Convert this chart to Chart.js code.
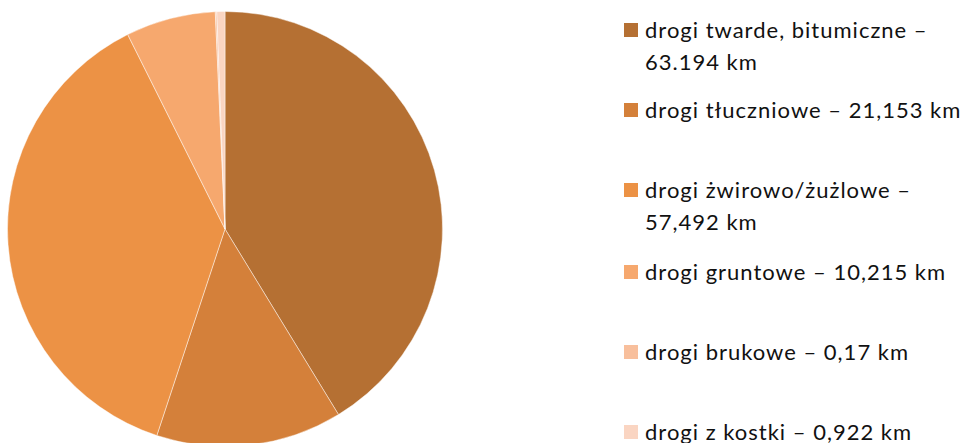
<!DOCTYPE html>
<html>
<head>
<meta charset="utf-8">
<script src="https://cdn.jsdelivr.net/npm/chart.js@4/dist/chart.umd.min.js"></script>
<style>
    html, body { margin: 0; padding: 0; background: #fff; overflow: hidden; }
    body { width: 966px; height: 443px; position: relative; }
    #pieBox { position: absolute; left: 7px; top: 11px; width: 436px; height: 436px; }
    #legend { position: absolute; left: 623px; top: 0; font-family: Lato, "Open Sans", sans-serif;
        font-size: 22px; letter-spacing: 1px; color: #111; }
    .item { position: absolute; left: 0; white-space: nowrap; line-height: 32px; }
    .box { position: absolute; left: 1px; top: 9px; width: 14px; height: 14px; }
    .txt { position: absolute; left: 22px; top: 0; }
</style>
</head>
<body>
<div id="pieBox"><canvas id="pie"></canvas></div>
<div id="legend"></div>
<script>
// road types and lengths (km)
var labels = [
    "drogi twarde, bitumiczne –",
    "drogi tłuczniowe – 21,153 km",
    "drogi żwirowo/żużlowe –",
    "drogi gruntowe – 10,215 km",
    "drogi brukowe – 0,17 km",
    "drogi z kostki – 0,922 km"
];
var secondLines = ["63.194 km", "", "57,492 km", "", "", ""];
var values = [63.194, 21.153, 57.492, 10.215, 0.17, 0.922];
var colors = ["#B57033", "#D4803A", "#EC9245", "#F6A86E", "#F8BF9C", "#FAD5C2"];
var legendTops = [14, 94, 174, 256, 336, 416];

var ctx = document.getElementById("pie");
new Chart(ctx, {
    type: "pie",
    data: {
        labels: labels,
        datasets: [{
            data: values,
            backgroundColor: colors,
            borderColor: "rgba(255,255,255,0.45)",
            borderWidth: 1
        }]
    },
    options: {
        responsive: true,
        maintainAspectRatio: false,
        animation: false,
        layout: { padding: 0 },
        plugins: {
            legend: { display: false },
            tooltip: { enabled: false }
        }
    }
});

// legend on the right
var legend = document.getElementById("legend");
labels.forEach(function (lab, i) {
    var item = document.createElement("div");
    item.className = "item";
    item.style.top = legendTops[i] + "px";
    var box = document.createElement("div");
    box.className = "box";
    box.style.background = colors[i];
    var txt = document.createElement("div");
    txt.className = "txt";
    txt.innerHTML = lab + (secondLines[i] ? "<br>" + secondLines[i] : "");
    item.appendChild(box);
    item.appendChild(txt);
    legend.appendChild(item);
});
</script>
</body>
</html>
